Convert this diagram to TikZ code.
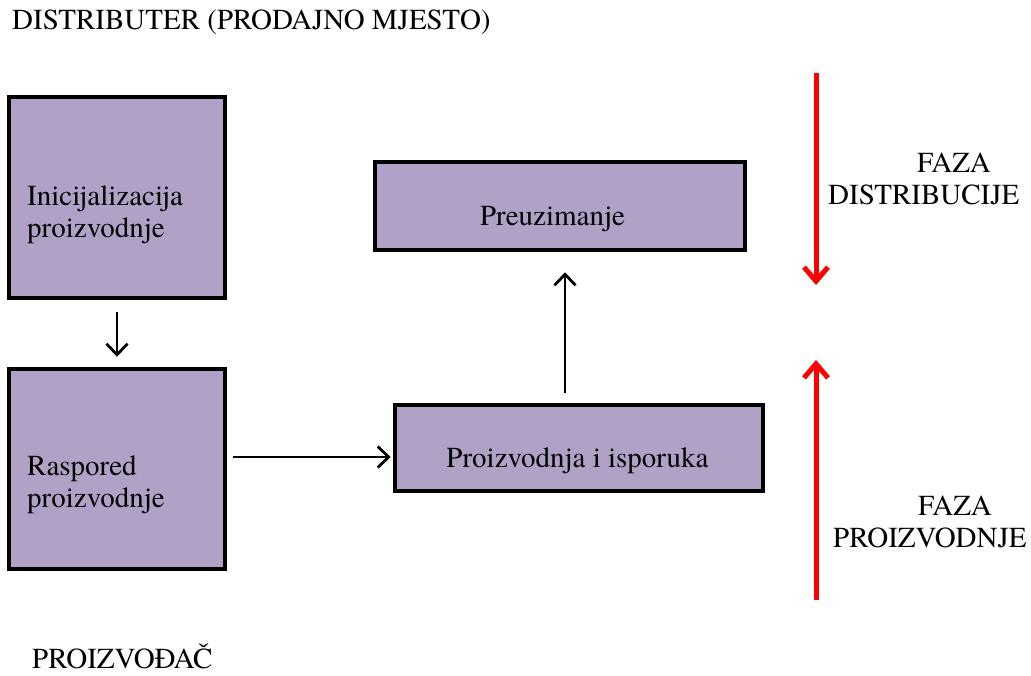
\documentclass[tikz,border=0pt]{standalone}
\usepackage{fontspec}
\setmainfont{texgyretermes}[Extension=.otf, UprightFont=*-regular, BoldFont=*-bold]
\usetikzlibrary{arrows.meta}
\definecolor{boxfill}{HTML}{B2A1C7}
\begin{document}
\begin{tikzpicture}[x=1pt, y=-1pt,
        font=\fontsize{29}{32}\selectfont,
        stage/.style={draw=black, line width=4.5pt, fill=boxfill, inner sep=0pt},
        txt/.style={inner sep=0pt, align=left},
        flow/.style={line width=2.8pt, -{Straight Barb[length=11pt,width=21pt]}},
        phase/.style={red, line width=5pt, -{Straight Barb[length=14pt,width=24pt]}}]
            \useasboundingbox (0,0) rectangle (1031,675);

            % Side titles
            \node[txt, anchor=base west] (dist) at (12,29) {DISTRIBUTER (PRODAJNO MJESTO)};
            \node[txt, anchor=base west] (maker) at (32,668) {PROIZVOĐAČ};

            % Left column
            \node[stage, minimum width=216pt, minimum height=201pt] (init) at (117,197.5) {};
            \node[stage, minimum width=216pt, minimum height=200pt] (plan) at (117,469) {};
            \node[txt, anchor=west] (initT) at (27,214.4) {Inicijalizacija\\proizvodnje};
            \node[txt, anchor=west] (planT) at (27,484.3) {Raspored\\proizvodnje};

            % Right column
            \node[stage, minimum width=370pt, minimum height=88pt] (take) at (560,206) {};
            \node[stage, minimum width=368pt, minimum height=86pt] (make) at (579,448) {};
            \node[txt, anchor=base] (takeT) at (552.5,225) {Preuzimanje};
            \node[txt, anchor=base] (makeT) at (577.5,467) {Proizvodnja i isporuka};

            % Edges
            \draw[flow, shorten <=12pt, shorten >=10pt] (init.south) -- (plan.north);
            \draw[flow, shorten <=6pt, shorten >=2pt] ([yshift=12pt]plan.east) -- ([yshift=-9pt]make.west);
            \draw[flow, shorten <=10pt, shorten >=20pt] ([xshift=-14pt]make.north) -- ([xshift=5pt]take.south);

            % Phases
            \coordinate (dTop) at (816,73);
            \coordinate (dTip) at (816,285);
            \coordinate (pBot) at (816,600);
            \coordinate (pTip) at (816,360);
            \draw[phase] (dTop) -- (dTip);
            \draw[phase] (pBot) -- (pTip);
            \node[txt, anchor=west] (dPhase) at (828,178.5) {\hspace*{89pt}FAZA\\DISTRIBUCIJE};
            \node[txt, anchor=west] (pPhase) at (833,521.5) {\hspace*{85pt}FAZA\\PROIZVODNJE};

        \end{tikzpicture}
\end{document}
